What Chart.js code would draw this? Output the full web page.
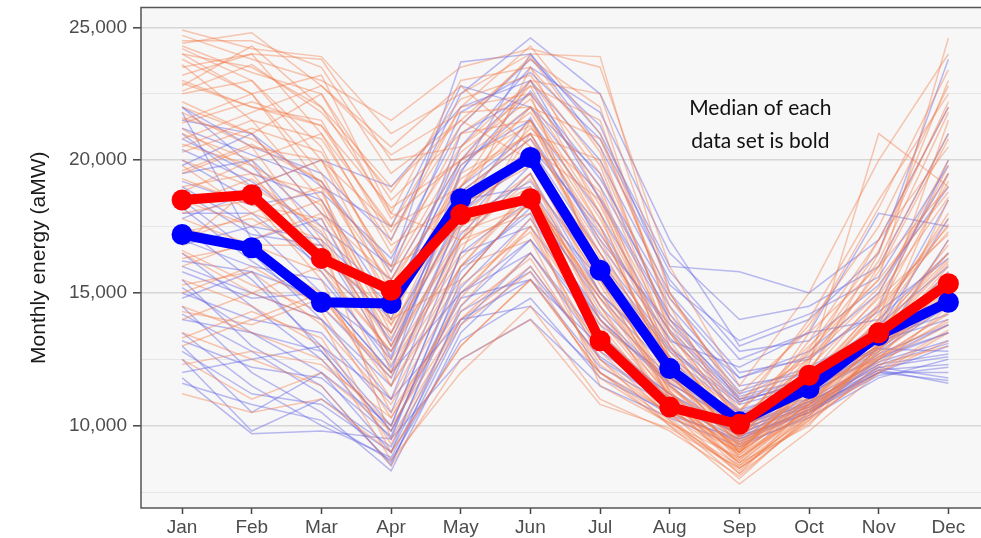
<!DOCTYPE html>
<html>
<head>
<meta charset="utf-8">
<script src="https://cdn.jsdelivr.net/npm/chart.js@4"></script>
<style>
  html, body { margin: 0; padding: 0; background: #fff; overflow: hidden; }
  #wrap { width: 1000px; height: 541px; margin-top: -3px; }
</style>
</head>
<body>
<div id="wrap"><canvas id="chart"></canvas></div>
<script>
// months along the x axis
const months = ['Jan', 'Feb', 'Mar', 'Apr', 'May', 'Jun', 'Jul', 'Aug', 'Sep', 'Oct', 'Nov', 'Dec'];

// y grid positions (labels only on the 5,000 steps)
const yTicks = [7500, 10000, 12500, 15000, 17500, 20000, 22500, 25000];

// bold medians (aMW)
const medianBlue = [17200, 16700, 14650, 14600, 18550, 20100, 15850, 12150, 10150, 11400, 13400, 14650];
const medianRed = [18500, 18700, 16300, 15100, 17950, 18550, 13200, 10700, 10050, 11900, 13500, 15350];

// individual traces, blue set (aMW)
const blueTraces = [
  [22000, 20500, 19500, 17000, 22500, 24600, 22500, 17000, 13000, 14000, 16500, 23800],
  [21500, 21000, 18000, 16000, 23700, 24000, 21000, 16000, 15800, 15000, 17000, 22000],
  [21000, 19000, 20000, 19000, 22000, 23000, 20000, 15000, 12000, 12500, 14500, 20000],
  [20000, 18500, 16500, 14000, 21000, 22500, 19000, 14500, 11500, 12000, 13800, 18500],
  [19500, 20000, 17500, 15500, 20000, 21500, 18000, 13500, 11000, 11500, 13000, 17000],
  [19000, 17500, 15000, 12000, 19500, 24000, 20500, 15500, 12500, 13500, 14000, 16500],
  [18500, 16500, 14000, 11000, 17500, 20500, 16500, 13000, 10500, 11000, 13500, 15500],
  [18000, 18000, 16000, 13500, 18500, 19000, 15000, 12500, 10200, 11300, 12800, 14500],
  [17500, 15500, 13000, 10000, 16500, 18500, 15500, 12000, 10000, 10800, 12500, 13800],
  [17000, 16000, 15500, 12500, 19000, 21000, 17000, 13800, 11200, 12000, 13200, 14000],
  [16500, 14500, 12500, 9500, 16000, 18000, 14000, 11500, 9600, 10500, 12000, 13000],
  [16000, 15000, 14000, 11500, 18000, 20000, 16000, 12800, 10800, 11500, 13000, 14800],
  [15500, 13000, 11500, 8500, 14500, 17000, 13500, 11000, 9300, 10300, 11800, 12500],
  [15000, 14000, 13500, 10500, 17000, 19500, 15000, 12300, 10300, 11200, 12600, 13500],
  [14500, 12000, 10500, 8300, 13500, 16000, 12500, 10800, 9500, 10600, 12000, 12000],
  [14000, 13500, 12000, 9000, 15500, 18500, 14500, 11800, 10000, 11000, 12400, 13200],
  [13500, 11500, 10000, 8800, 14000, 15500, 13000, 11200, 9800, 10900, 12200, 11800],
  [13000, 10500, 12000, 10000, 16500, 17500, 14000, 11600, 10100, 11300, 12900, 12800],
  [12500, 9800, 11000, 9200, 15000, 16500, 12800, 11000, 9700, 10800, 12100, 11600],
  [12000, 12500, 13000, 11000, 14000, 14500, 12000, 10400, 9500, 10500, 11900, 12200],
  [11800, 9700, 9800, 9500, 12500, 14000, 11500, 10300, 9200, 10400, 12500, 13500],
  [20800, 19500, 18500, 14500, 20500, 23500, 21800, 16500, 14000, 14500, 16000, 21000],
  [19800, 21000, 19000, 17500, 22800, 22000, 19500, 14000, 11800, 12800, 15000, 19500],
  [21800, 17000, 17800, 13000, 18000, 20500, 17500, 13200, 12200, 13500, 18000, 17500],
  [16800, 17500, 17000, 14500, 20000, 23000, 18500, 14000, 11000, 11800, 13400, 15200],
  [15800, 14800, 15000, 12000, 15000, 17000, 13800, 11800, 10500, 11600, 13800, 16000],
  [14800, 15800, 12800, 9800, 14800, 15500, 12200, 10800, 9900, 10700, 12300, 12700],
  [18200, 16200, 14500, 11800, 17200, 19800, 16200, 12900, 10900, 11700, 13300, 14200],
  [21200, 20200, 19200, 15800, 21800, 23300, 20800, 15800, 12800, 13200, 15300, 19000],
  [20400, 19200, 17200, 14800, 19800, 22000, 18600, 14200, 11300, 12200, 13600, 17800],
  [18800, 17200, 16800, 13200, 18800, 20800, 17200, 13600, 11100, 11800, 13100, 15800],
  [17800, 18800, 15800, 12200, 17800, 19200, 15800, 12600, 10600, 11400, 12900, 14600],
  [16200, 15800, 14800, 12800, 18200, 21600, 16800, 13300, 10900, 11700, 13200, 14900],
  [15200, 13500, 12800, 9800, 15200, 17800, 14200, 11600, 10000, 10900, 12300, 13100],
  [14200, 12800, 11200, 8600, 13800, 16500, 13200, 11200, 9600, 10600, 12100, 12300],
  [13200, 12200, 11800, 9600, 15800, 18200, 14800, 12100, 10400, 11200, 12700, 13800],
  [12800, 11200, 10800, 9000, 14300, 15800, 12600, 10800, 9700, 10700, 12000, 11700],
  [11600, 10800, 10200, 8700, 13200, 14800, 11800, 10500, 9400, 10500, 12200, 12600],
  [19200, 18300, 18800, 16300, 21300, 23800, 21300, 15300, 13200, 14200, 15600, 19800],
  [22000, 19800, 16800, 12600, 19600, 22600, 19300, 14800, 11800, 12600, 14300, 16300]
];

// individual traces, orange set (aMW)
const orangeTraces = [
  [24900, 24200, 23900, 21000, 22500, 24000, 23900, 15000, 11000, 12500, 17000, 22000],
  [24500, 24500, 23500, 19500, 21500, 23800, 22000, 14000, 10500, 13000, 15500, 24600],
  [24000, 23500, 22000, 18000, 23000, 23500, 20500, 13500, 9800, 11500, 14000, 21500],
  [23500, 24000, 23800, 20000, 20500, 22500, 19000, 12500, 9200, 10800, 13500, 19500],
  [23000, 22000, 21500, 17000, 22000, 24300, 21000, 14500, 10000, 12000, 16500, 23000],
  [22500, 23000, 20500, 15500, 19000, 22000, 18000, 11500, 9000, 11000, 13000, 18500],
  [22000, 21000, 22500, 18500, 21000, 21500, 17500, 12000, 8800, 10500, 12800, 17000],
  [21500, 22500, 19500, 14500, 18000, 20500, 16000, 11000, 8500, 10300, 13500, 16500],
  [21000, 20000, 21000, 16500, 20500, 23000, 19500, 13000, 9500, 12500, 15000, 20000],
  [20500, 21500, 18500, 13500, 17500, 19500, 14500, 10500, 8200, 10800, 12500, 15500],
  [20000, 19000, 17500, 12500, 16500, 21500, 17000, 12500, 9300, 11200, 14000, 18000],
  [19500, 20500, 20000, 17500, 22000, 22500, 15500, 11000, 8600, 10000, 13000, 16000],
  [19000, 19500, 16500, 11500, 15500, 18500, 13500, 10200, 8000, 10400, 12200, 14500],
  [18500, 17500, 18500, 14000, 19500, 21000, 16500, 11800, 9700, 13500, 16000, 19000],
  [18000, 18500, 15500, 10500, 14500, 17500, 12500, 10000, 8400, 10200, 13000, 15000],
  [24200, 23000, 20000, 16000, 17500, 19000, 14000, 10800, 9100, 11500, 12500, 14000],
  [23800, 22500, 19000, 12000, 16000, 17000, 12000, 10000, 7800, 9800, 12000, 13500],
  [22800, 24300, 22000, 19000, 21500, 20000, 16500, 12500, 10500, 14000, 18500, 22500],
  [21800, 20500, 17000, 9500, 14000, 16500, 13000, 10600, 9000, 11800, 14500, 17500],
  [17500, 16500, 15000, 11000, 16000, 19000, 14500, 11000, 8900, 10600, 12700, 14800],
  [17000, 18000, 17000, 13000, 18500, 20000, 15000, 11500, 9400, 11000, 13800, 16500],
  [16500, 15000, 14000, 9000, 13000, 15500, 12000, 10200, 8300, 10500, 12400, 13800],
  [16000, 17000, 18000, 15500, 20000, 22000, 17500, 12000, 9800, 12800, 15500, 18800],
  [15500, 14500, 13000, 8700, 12000, 14500, 11000, 9800, 8100, 10300, 12000, 13200],
  [15000, 16000, 14500, 12000, 17000, 19500, 14000, 11200, 9200, 11300, 13200, 15800],
  [14500, 13500, 12500, 10000, 14000, 16000, 12500, 10400, 8700, 10700, 12600, 14200],
  [14000, 15000, 16000, 13500, 19000, 21500, 16000, 11700, 9600, 12200, 14800, 17200],
  [13500, 12500, 11500, 8500, 12500, 14000, 10800, 9900, 8400, 10100, 12300, 13000],
  [12500, 11000, 12000, 9800, 15000, 17500, 13500, 11000, 9000, 11500, 13000, 15000],
  [11200, 10500, 11000, 9000, 13000, 15500, 12000, 10500, 9300, 10900, 13500, 14500],
  [24700, 23800, 23000, 21500, 23500, 24200, 23500, 16000, 11500, 15000, 20000, 24000],
  [23200, 24000, 21000, 17500, 19000, 23000, 22500, 15000, 10800, 13800, 17500, 22800],
  [20800, 21800, 22800, 20500, 22800, 20500, 18500, 13500, 10200, 12000, 16000, 21000],
  [19800, 18000, 19000, 16000, 21000, 22800, 18000, 12800, 9900, 13200, 17000, 20500],
  [18800, 20000, 16000, 12800, 17000, 18000, 11500, 10100, 8800, 10600, 12900, 14900],
  [24000, 22500, 23200, 18000, 17000, 21000, 20000, 13800, 10300, 12300, 21000, 19000],
  [16800, 19000, 20000, 15000, 18000, 23500, 18500, 12300, 9500, 11700, 14200, 17800],
  [22200, 21000, 18000, 14000, 15500, 18500, 15000, 11200, 9100, 11100, 13600, 16800],
  [13000, 14000, 15000, 11500, 16000, 18800, 14800, 11400, 9600, 11400, 13400, 16200],
  [21200, 19500, 18800, 13800, 19800, 21800, 17800, 12600, 9700, 12600, 15200, 19500],
  [24300, 23300, 22500, 17800, 20000, 22800, 21500, 14200, 10600, 12700, 16200, 21800],
  [23600, 21500, 20800, 16800, 18500, 21200, 18800, 12200, 9000, 11600, 14600, 19800],
  [22600, 23600, 21800, 18800, 22300, 23200, 19800, 13200, 9800, 12400, 15800, 20800],
  [21600, 20800, 19200, 14800, 18800, 20800, 16800, 12000, 9200, 11300, 13900, 17600],
  [20300, 21200, 20300, 15800, 20300, 22300, 18300, 13000, 9600, 11900, 14900, 18600],
  [19300, 18300, 17800, 13300, 17800, 20300, 15800, 11300, 8700, 10900, 13100, 15700],
  [18300, 19300, 17300, 12300, 16300, 18800, 14300, 10800, 8400, 10400, 12800, 15300],
  [17300, 17800, 16300, 14300, 18300, 19800, 15300, 11300, 9100, 11100, 13600, 16300],
  [16300, 16800, 15800, 12800, 17300, 18300, 13800, 10600, 8600, 10600, 12500, 14300],
  [15300, 15800, 13800, 10800, 15300, 17300, 12800, 10300, 8200, 10200, 12100, 13600],
  [14300, 13800, 14800, 11800, 16800, 18300, 13300, 10800, 8900, 11000, 13000, 15400],
  [13300, 14300, 13300, 9300, 13800, 15800, 11800, 10100, 8500, 10500, 12600, 13900],
  [12300, 12800, 12300, 10300, 14300, 16300, 12300, 10400, 9000, 10800, 12900, 14700],
  [24400, 24800, 22800, 20200, 21800, 22000, 20800, 14800, 11200, 13600, 18200, 23400],
  [22900, 22000, 21300, 17300, 21300, 23900, 20300, 13600, 10100, 12900, 16600, 22200],
  [21400, 22200, 21300, 18200, 20000, 21300, 17300, 12400, 9400, 11400, 14400, 19200],
  [20600, 19800, 18300, 13000, 17000, 19300, 15500, 11600, 9000, 10800, 13300, 16100],
  [19600, 20600, 19200, 15300, 19300, 21000, 16300, 11900, 9300, 11600, 14400, 17300],
  [17800, 16800, 16800, 13800, 17600, 18600, 14800, 11100, 8800, 10800, 13100, 15100],
  [16600, 15300, 14300, 10300, 14800, 17800, 13300, 10700, 8600, 10700, 12700, 14600]
];

const noteLines = ['Median of each', 'data set is bold'];

const toXY = arr => arr.map((v, i) => ({ x: i, y: v }));

const thin = (arr, color) => ({
  data: toXY(arr),
  borderColor: color,
  borderWidth: 1.5,
  pointRadius: 0,
  tension: 0
});

const datasets = [
  {
    data: toXY(medianRed), borderColor: '#ff0000', backgroundColor: '#ff0000',
    borderWidth: 10, pointRadius: 10.5, pointBorderWidth: 0, tension: 0
  },
  {
    data: toXY(medianBlue), borderColor: '#0000ff', backgroundColor: '#0000ff',
    borderWidth: 10, pointRadius: 10.5, pointBorderWidth: 0, tension: 0
  }
];
orangeTraces.forEach(t => datasets.push(thin(t, 'rgba(244,125,75,0.42)')));
blueTraces.forEach(t => datasets.push(thin(t, 'rgba(95,95,228,0.42)')));

const isMajor = v => v % 5000 === 0;

// grey panel, border and the note
const panel = {
  id: 'panel',
  beforeDraw(chart) {
    const { ctx, chartArea: a } = chart;
    ctx.save();
    ctx.fillStyle = '#f7f7f7';
    ctx.fillRect(a.left, a.top, a.right - a.left, a.bottom - a.top);
    ctx.restore();
  },
  afterDraw(chart) {
    const { ctx, chartArea: a, scales } = chart;
    ctx.save();
    ctx.strokeStyle = '#555';
    ctx.lineWidth = 1.5;
    ctx.strokeRect(a.left, a.top, a.right - a.left, a.bottom - a.top);
    ctx.fillStyle = '#111';
    ctx.font = '21px Lato, "Open Sans", sans-serif';
    ctx.textAlign = 'center';
    ctx.textBaseline = 'middle';
    const x = scales.x.getPixelForValue(8.3);
    ctx.fillText(noteLines[0], x, scales.y.getPixelForValue(21950));
    ctx.fillText(noteLines[1], x, scales.y.getPixelForValue(20710));
    ctx.restore();
  }
};

new Chart(document.getElementById('chart'), {
  type: 'line',
  data: { datasets },
  options: {
    responsive: true,
    maintainAspectRatio: false,
    animation: false,
    layout: { padding: { top: 4, right: 8, left: 0, bottom: 0 } },
    plugins: { legend: { display: false }, tooltip: { enabled: false } },
    scales: {
      x: {
        type: 'linear',
        min: -0.59,
        max: 11.59,
        afterBuildTicks: s => { s.ticks = months.map((m, i) => ({ value: i })); },
        afterFit: s => { s.height = 30; s.paddingLeft = 0; s.paddingRight = 0; },
        ticks: {
          autoSkip: false,
          maxRotation: 0,
          padding: 2,
          color: '#4d4d4d',
          font: { family: 'Liberation Sans, Arial, sans-serif', size: 19 },
          callback: v => months[v] ?? ''
        },
        grid: { display: true, drawOnChartArea: false, tickLength: 6, tickColor: '#444', tickWidth: 1.5 },
        border: { display: false }
      },
      y: {
        min: 6900,
        max: 25750,
        afterBuildTicks: s => { s.ticks = yTicks.map(v => ({ value: v })); },
        afterFit: s => { s.width = 141; s.paddingTop = 0; s.paddingBottom = 0; },
        ticks: {
          padding: 6,
          color: '#4d4d4d',
          font: { family: 'Liberation Sans, Arial, sans-serif', size: 19 },
          callback: v => (isMajor(v) ? v.toLocaleString('en-US') : '')
        },
        grid: {
          tickLength: 8,
          color: c => (c.tick && isMajor(c.tick.value) ? '#d6d6d6' : '#e6e6e6'),
          lineWidth: c => (c.tick && isMajor(c.tick.value) ? 1.6 : 1),
          tickColor: c => (c.tick && isMajor(c.tick.value) ? '#444' : 'rgba(0,0,0,0)'),
          tickWidth: 1.5
        },
        border: { display: false },
        title: {
          display: true,
          text: 'Monthly energy (aMW)',
          color: '#1a1a1a',
          font: { family: 'Liberation Sans, Arial, sans-serif', size: 21 },
          padding: { top: 27, bottom: 0 }
        }
      }
    }
  },
  plugins: [panel]
});
</script>
</body>
</html>
